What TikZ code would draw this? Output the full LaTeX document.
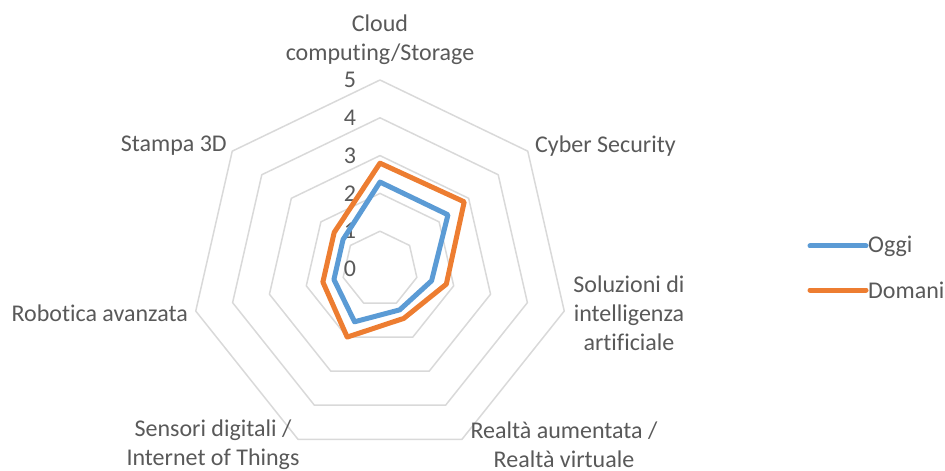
\documentclass[tikz,border=0pt]{standalone}
\usepackage{fontspec}
\setmainfont[RawFeature={-liga;-clig;-calt}]{Carlito}
\usepackage{xcolor}
\usetikzlibrary{positioning,calc}
\definecolor{oggiblue}{HTML}{5B9BD5}
\definecolor{domaniorange}{HTML}{ED7D31}
\definecolor{gridgray}{HTML}{D9D9D9}
\definecolor{textgray}{HTML}{595959}

\begin{document}
\begin{tikzpicture}[x=1pt, y=1pt, font=\fontsize{24}{29}\selectfont]
        % Style definitions
        \tikzset{
            grid/.style={draw=gridgray, line width=1.5pt, line join=round},
            series/.style={line width=5pt, line join=round},
            axislabel/.style={text=textgray, align=center, inner sep=0pt},
            ticklabel/.style={text=textgray, inner sep=0pt},
            legendline/.style={line width=5pt, line cap=round}
        }
        \def\unit{37.8}
        \useasboundingbox (-380,-202) rectangle (565,269);

        % Grid
        \foreach \l in {1,...,5}
            \draw [grid] (90:\l*\unit) \foreach \k in {1,...,6} { -- (90-\k*360/7:\l*\unit) } -- cycle;

        % Tick labels
        \foreach \l in {0,...,5}
            \node [ticklabel] (tick\l) at (-30,\l*\unit) {\l};

        % Series
        \draw [series, oggiblue] (90:2.3*\unit) -- (90-360/7:2.3*\unit) -- (90-2*360/7:1.4*\unit)
            -- (90-3*360/7:1.2*\unit) -- (90-4*360/7:1.55*\unit) -- (90-5*360/7:1.25*\unit)
            -- (90-6*360/7:1.25*\unit) -- cycle;
        \draw [series, domaniorange] (90:2.8*\unit) -- (90-360/7:2.85*\unit) -- (90-2*360/7:1.8*\unit)
            -- (90-3*360/7:1.45*\unit) -- (90-4*360/7:2.0*\unit) -- (90-5*360/7:1.55*\unit)
            -- (90-6*360/7:1.55*\unit) -- cycle;

        % Axis labels
        \node [axislabel] (cloud) at (0,229) {Cloud\\computing/Storage};
        \node [axislabel, anchor=west] (cyber) at (155,123) {Cyber Security};
        \node [axislabel] (ai) at (249,-44) {Soluzioni di\\intelligenza\\artificiale};
        \node [axislabel] (ar) at (184,-176) {Realtà aumentata /\\Realtà virtuale};
        \node [axislabel] (iot) at (-167,-176) {Sensori digitali /\\Internet of Things};
        \node [axislabel, anchor=east] (robot) at (-192,-44) {Robotica avanzata};
        \node [axislabel, anchor=east] (print) at (-153,123) {Stampa 3D};

        % Legend
        \coordinate (oggistart) at (430,23);
        \coordinate (oggiend) at (486,23);
        \draw [legendline, oggiblue] (oggistart) -- (oggiend);
        \node [ticklabel, right=2pt of oggiend] (oggi) {Oggi};
        \coordinate (domanistart) at (430,-21);
        \coordinate (domaniend) at (486,-21);
        \draw [legendline, domaniorange] (domanistart) -- (domaniend);
        \node [ticklabel, right=2pt of domaniend] (domani) {Domani};
    \end{tikzpicture}
\end{document}
